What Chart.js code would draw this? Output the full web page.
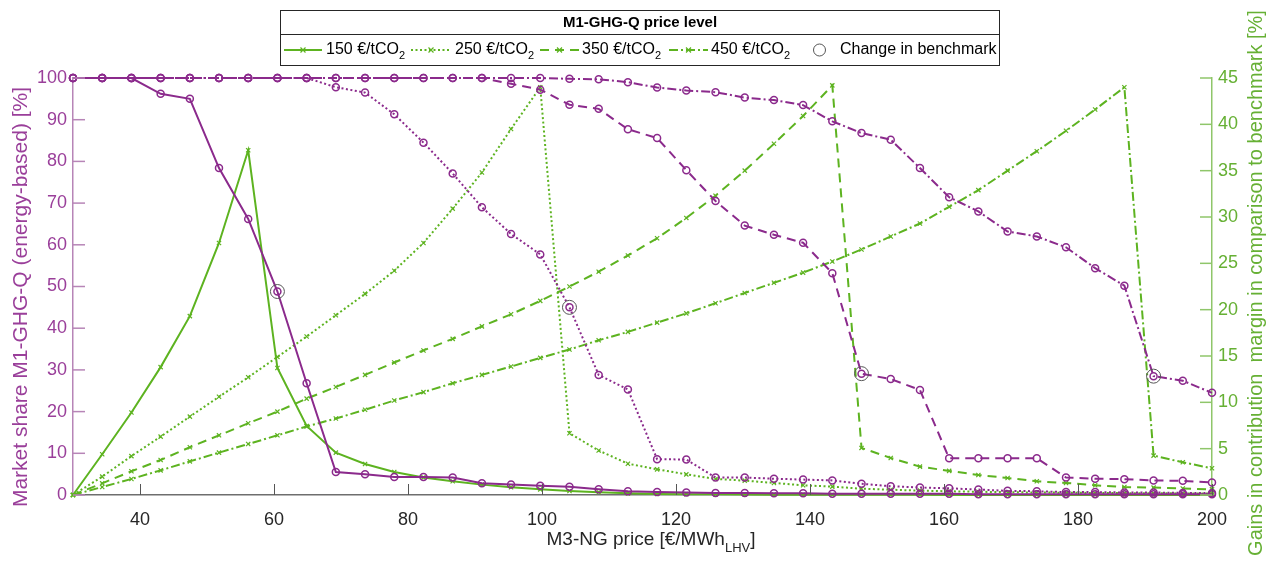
<!DOCTYPE html>
<html>
<head>
<meta charset="utf-8">
<script src="https://cdn.jsdelivr.net/npm/chart.js@4.4.1/dist/chart.umd.min.js"></script>
<style>
  html, body { margin: 0; padding: 0; background: #fff; }
  #wrap { width: 1272px; height: 561px; }
</style>
</head>
<body>
<div id="wrap"><canvas id="myChart" width="1272" height="561"></canvas></div>
<script>
// M3-NG price grid [€/MWh_LHV]
const prices = [30, 34.36, 38.72, 43.08, 47.44, 51.79, 56.15, 60.51, 64.87, 69.23,
    73.59, 77.95, 82.31, 86.67, 91.03, 95.38, 99.74, 104.10, 108.46, 112.82,
    117.18, 121.54, 125.90, 130.26, 134.62, 138.97, 143.33, 147.69, 152.05, 156.41,
    160.77, 165.13, 169.49, 173.85, 178.21, 182.56, 186.92, 191.28, 195.64, 200];

// market share M1-GHG-Q [%] (left axis)
const share150 = [100, 100, 100, 96.2, 95.0, 78.4, 66.2, 48.8, 26.8, 5.5,
    5.0, 4.3, 4.3, 4.2, 2.8, 2.5, 2.2, 2.0, 1.4, 0.9,
    0.7, 0.6, 0.5, 0.5, 0.4, 0.4, 0.3, 0.3, 0.3, 0.3,
    0.3, 0.2, 0.2, 0.2, 0.2, 0.2, 0.2, 0.2, 0.2, 0.2];
const share250 = [100, 100, 100, 100, 100, 100, 100, 100, 100, 97.8,
    96.5, 91.3, 84.5, 77.1, 69.0, 62.6, 57.7, 45.0, 28.8, 25.3,
    8.6, 8.5, 4.2, 4.2, 3.9, 3.7, 3.5, 2.7, 2.1, 1.8,
    1.6, 1.3, 1.0, 0.9, 0.7, 0.7, 0.6, 0.6, 0.5, 0.5];
const share350 = [100, 100, 100, 100, 100, 100, 100, 100, 100, 100,
    100, 100, 100, 100, 100, 98.6, 97.2, 93.6, 92.6, 87.7,
    85.6, 77.9, 70.5, 64.6, 62.4, 60.5, 53.2, 29.1, 27.8, 25.2,
    8.8, 8.8, 8.8, 8.8, 4.2, 3.9, 3.8, 3.5, 3.4, 3.0];
const share450 = [100, 100, 100, 100, 100, 100, 100, 100, 100, 100,
    100, 100, 100, 100, 100, 100, 100, 99.8, 99.7, 99.0,
    97.7, 97.0, 96.6, 95.3, 94.7, 93.5, 89.6, 86.8, 85.2, 78.4,
    71.4, 68.0, 63.2, 62.0, 59.4, 54.4, 50.2, 28.5, 27.4, 24.5];

// gains in contribution margin [%] (right axis)
const gain150 = [0, 4.4, 8.9, 13.8, 19.3, 27.2, 37.2, 13.7, 7.45, 4.57,
    3.35, 2.48, 1.9, 1.48, 1.12, 0.83, 0.61, 0.43, 0.29, 0.18,
    0.12, 0.09, 0.07, 0.05, 0.04, 0.03, 0.03, 0.02, 0.02, 0.02,
    0.01, 0.01, 0.01, 0.01, 0.01, 0, 0, 0, 0, 0];
const gain250 = [0, 1.98, 4.2, 6.3, 8.46, 10.6, 12.7, 14.9, 17.1, 19.4,
    21.7, 24.2, 27.2, 30.9, 34.8, 39.5, 44.0, 6.66, 4.8, 3.38,
    2.77, 2.23, 1.73, 1.55, 1.3, 1.05, 0.9, 0.68, 0.57, 0.47,
    0.4, 0.35, 0.3, 0.27, 0.25, 0.22, 0.2, 0.19, 0.17, 0.16];
const gain350 = [0, 1.26, 2.56, 3.78, 5.15, 6.44, 7.74, 9.0, 10.4, 11.66,
    12.96, 14.3, 15.6, 16.85, 18.2, 19.5, 20.95, 22.5, 24.1, 25.85,
    27.7, 29.9, 32.3, 35.0, 37.9, 40.9, 44.2, 5.08, 4.0, 3.06,
    2.6, 2.16, 1.84, 1.48, 1.3, 1.05, 0.86, 0.8, 0.7, 0.61];
const gain450 = [0, 0.86, 1.73, 2.66, 3.63, 4.57, 5.5, 6.44, 7.4, 8.25,
    9.2, 10.2, 11.1, 12.06, 12.96, 13.86, 14.8, 15.7, 16.7, 17.6,
    18.6, 19.6, 20.7, 21.8, 22.9, 24.0, 25.2, 26.5, 27.9, 29.3,
    31.1, 32.9, 35.0, 37.1, 39.3, 41.6, 44.0, 4.25, 3.53, 2.88];

// change in benchmark
const benchPrice = [60.51, 104.10, 147.69, 191.28];
const benchShare = [48.8, 45.0, 29.1, 28.5];

const levelLabels = ["150 €/tCO", "250 €/tCO", "350 €/tCO", "450 €/tCO"];
const xTicks = [40, 60, 80, 100, 120, 140, 160, 180, 200];

const purple = "#8B2A8C", purpleText = "#9A3F9A", purpleAxis = "#B785B7";
const green = "#5DB320", greenText = "#66B034", greenAxis = "#8FC66A";
const dashes = [[], [2, 2.5], [9, 6], [9, 3, 2, 3]];
const FONT = "'Liberation Sans', Arial, sans-serif";

function pts(ys) {
    return prices.map((x, i) => ({x: x, y: ys[i]}));
}

let datasets = [];
datasets.push({
    label: "Change in benchmark",
    data: benchPrice.map((x, i) => ({x: x, y: benchShare[i]})),
    yAxisID: "y",
    showLine: false,
    clip: false,
    pointStyle: "circle",
    pointRadius: 7,
    pointBorderWidth: 1,
    pointBorderColor: "#555555",
    pointBackgroundColor: "rgba(0,0,0,0)"
});
[share150, share250, share350, share450].forEach(function (s, k) {
    datasets.push({
        data: pts(s),
        yAxisID: "y",
        clip: false,
        borderColor: purple,
        borderWidth: 2,
        borderDash: dashes[k],
        pointStyle: "circle",
        pointRadius: 3.5,
        pointBorderWidth: 1.5,
        pointBorderColor: purple,
        pointBackgroundColor: "rgba(0,0,0,0)"
    });
});
[gain150, gain250, gain350, gain450].forEach(function (g, k) {
    datasets.push({
        data: pts(g),
        yAxisID: "y1",
        clip: false,
        borderColor: green,
        borderWidth: 2,
        borderDash: dashes[k],
        pointStyle: "crossRot",
        pointRadius: 3,
        pointBorderWidth: 1.2,
        pointBorderColor: green,
        pointBackgroundColor: green
    });
});

function textWithSub(ctx, main, sub, tail, x, y, size, subSize, subDy, align) {
    ctx.font = size + "px " + FONT;
    let w1 = ctx.measureText(main).width;
    let w3 = tail ? ctx.measureText(tail).width : 0;
    ctx.font = subSize + "px " + FONT;
    let w2 = ctx.measureText(sub).width;
    let total = w1 + w2 + w3;
    let x0 = align === "center" ? x - total / 2 : x;
    ctx.textAlign = "left";
    ctx.font = size + "px " + FONT;
    ctx.fillText(main, x0, y);
    ctx.font = subSize + "px " + FONT;
    ctx.fillText(sub, x0 + w1, y + subDy);
    if (tail) {
        ctx.font = size + "px " + FONT;
        ctx.fillText(tail, x0 + w1 + w2, y);
    }
}

const decorations = {
    id: "decorations",
    afterDraw: function (chart) {
        const ctx = chart.ctx;
        const xs = chart.scales.x, ys = chart.scales.y, y1 = chart.scales.y1;
        const area = chart.chartArea;
        ctx.save();

        // inward tick marks
        ctx.lineWidth = 1;
        ctx.strokeStyle = "#555555";
        xTicks.forEach(function (v) {
            let px = Math.round(xs.getPixelForValue(v)) + 0.5;
            ctx.beginPath();
            ctx.moveTo(px, area.bottom);
            ctx.lineTo(px, area.bottom - 11);
            ctx.stroke();
        });
        ctx.strokeStyle = purpleAxis;
        ctx.lineWidth = 1.5;
        ys.ticks.forEach(function (t) {
            let py = ys.getPixelForValue(t.value);
            ctx.beginPath();
            ctx.moveTo(area.left, py);
            ctx.lineTo(area.left + 12, py);
            ctx.stroke();
        });
        ctx.strokeStyle = greenAxis;
        y1.ticks.forEach(function (t) {
            let py = y1.getPixelForValue(t.value);
            ctx.beginPath();
            ctx.moveTo(area.right, py);
            ctx.lineTo(area.right - 12, py);
            ctx.stroke();
        });

        // axis titles
        ctx.textBaseline = "middle";
        ctx.fillStyle = "#262626";
        textWithSub(ctx, "M3-NG price [€/MWh", "LHV", "]", 651, 540, 19, 13, 8, "center");

        ctx.save();
        ctx.translate(21, 297);
        ctx.rotate(-Math.PI / 2);
        ctx.fillStyle = purpleText;
        ctx.textAlign = "center";
        ctx.font = "21px " + FONT;
        ctx.fillText("Market share M1-GHG-Q (energy-based) [%]", 0, 0);
        ctx.restore();

        ctx.save();
        ctx.translate(1256, 283);
        ctx.rotate(-Math.PI / 2);
        ctx.fillStyle = greenText;
        ctx.textAlign = "center";
        ctx.font = "20px " + FONT;
        ctx.fillText("Gains in contribution  margin in comparison to benchmark [%]", 0, 0);
        ctx.restore();

        // legend box
        ctx.fillStyle = "#ffffff";
        ctx.fillRect(280.5, 10.5, 719, 55);
        ctx.strokeStyle = "#262626";
        ctx.lineWidth = 1;
        ctx.strokeRect(280.5, 10.5, 719, 55);
        ctx.beginPath();
        ctx.moveTo(280.5, 34.5);
        ctx.lineTo(999.5, 34.5);
        ctx.stroke();
        ctx.fillStyle = "#000000";
        ctx.textAlign = "center";
        ctx.font = "bold 15px " + FONT;
        ctx.fillText("M1-GHG-Q price level", 640, 23);

        const samples = [[284, 322, 326], [411, 451, 455], [540, 579, 582], [669, 708, 711]];
        samples.forEach(function (s, k) {
            let cy = 50;
            ctx.strokeStyle = green;
            ctx.lineWidth = 2;
            ctx.setLineDash(dashes[k]);
            ctx.beginPath();
            ctx.moveTo(s[0], cy);
            ctx.lineTo(s[1], cy);
            ctx.stroke();
            ctx.setLineDash([]);
            let mx = (s[0] + s[1]) / 2;
            ctx.lineWidth = 1.2;
            ctx.beginPath();
            ctx.moveTo(mx - 2.5, cy - 2.5); ctx.lineTo(mx + 2.5, cy + 2.5);
            ctx.moveTo(mx - 2.5, cy + 2.5); ctx.lineTo(mx + 2.5, cy - 2.5);
            ctx.stroke();
            ctx.fillStyle = "#000000";
            textWithSub(ctx, levelLabels[k], "2", "", s[2], cy, 16, 11, 6, "left");
        });
        ctx.strokeStyle = "#555555";
        ctx.lineWidth = 1;
        ctx.beginPath();
        ctx.arc(819.5, 50, 6, 0, Math.PI * 2);
        ctx.stroke();
        ctx.fillStyle = "#000000";
        ctx.textAlign = "left";
        ctx.font = "16px " + FONT;
        ctx.fillText("Change in benchmark", 840, 50);

        ctx.restore();
    }
};

let ctx = document.getElementById("myChart").getContext("2d");
let myChart = new Chart(ctx, {
    type: "line",
    data: {datasets: datasets},
    options: {
        responsive: false,
        animation: false,
        layout: {padding: {top: 78, left: 0, right: 0, bottom: 0}},
        plugins: {
            legend: {display: false},
            tooltip: {enabled: false}
        },
        scales: {
            x: {
                type: "linear",
                position: "bottom",
                min: 30,
                max: 200,
                afterBuildTicks: function (scale) {
                    scale.ticks = xTicks.map(v => ({value: v}));
                },
                afterFit: function (scale) { scale.height = 66; },
                grid: {display: false, drawTicks: false},
                border: {display: true, color: "#6e6e6e", width: 1.5},
                ticks: {
                    color: "#262626",
                    padding: 14,
                    maxRotation: 0,
                    font: {family: FONT, size: 18}
                }
            },
            y: {
                position: "left",
                min: 0,
                max: 100,
                afterFit: function (scale) { scale.width = 73; },
                grid: {display: false, drawTicks: false},
                border: {display: true, color: purpleAxis, width: 1.5},
                ticks: {
                    stepSize: 10,
                    color: purpleText,
                    padding: 6,
                    font: {family: FONT, size: 18}
                }
            },
            y1: {
                position: "right",
                min: 0,
                max: 45,
                afterFit: function (scale) { scale.width = 60; },
                grid: {display: false, drawTicks: false},
                border: {display: true, color: greenAxis, width: 1.5},
                ticks: {
                    stepSize: 5,
                    color: greenText,
                    padding: 6,
                    font: {family: FONT, size: 18}
                }
            }
        }
    },
    plugins: [decorations]
});
</script>
</body>
</html>
